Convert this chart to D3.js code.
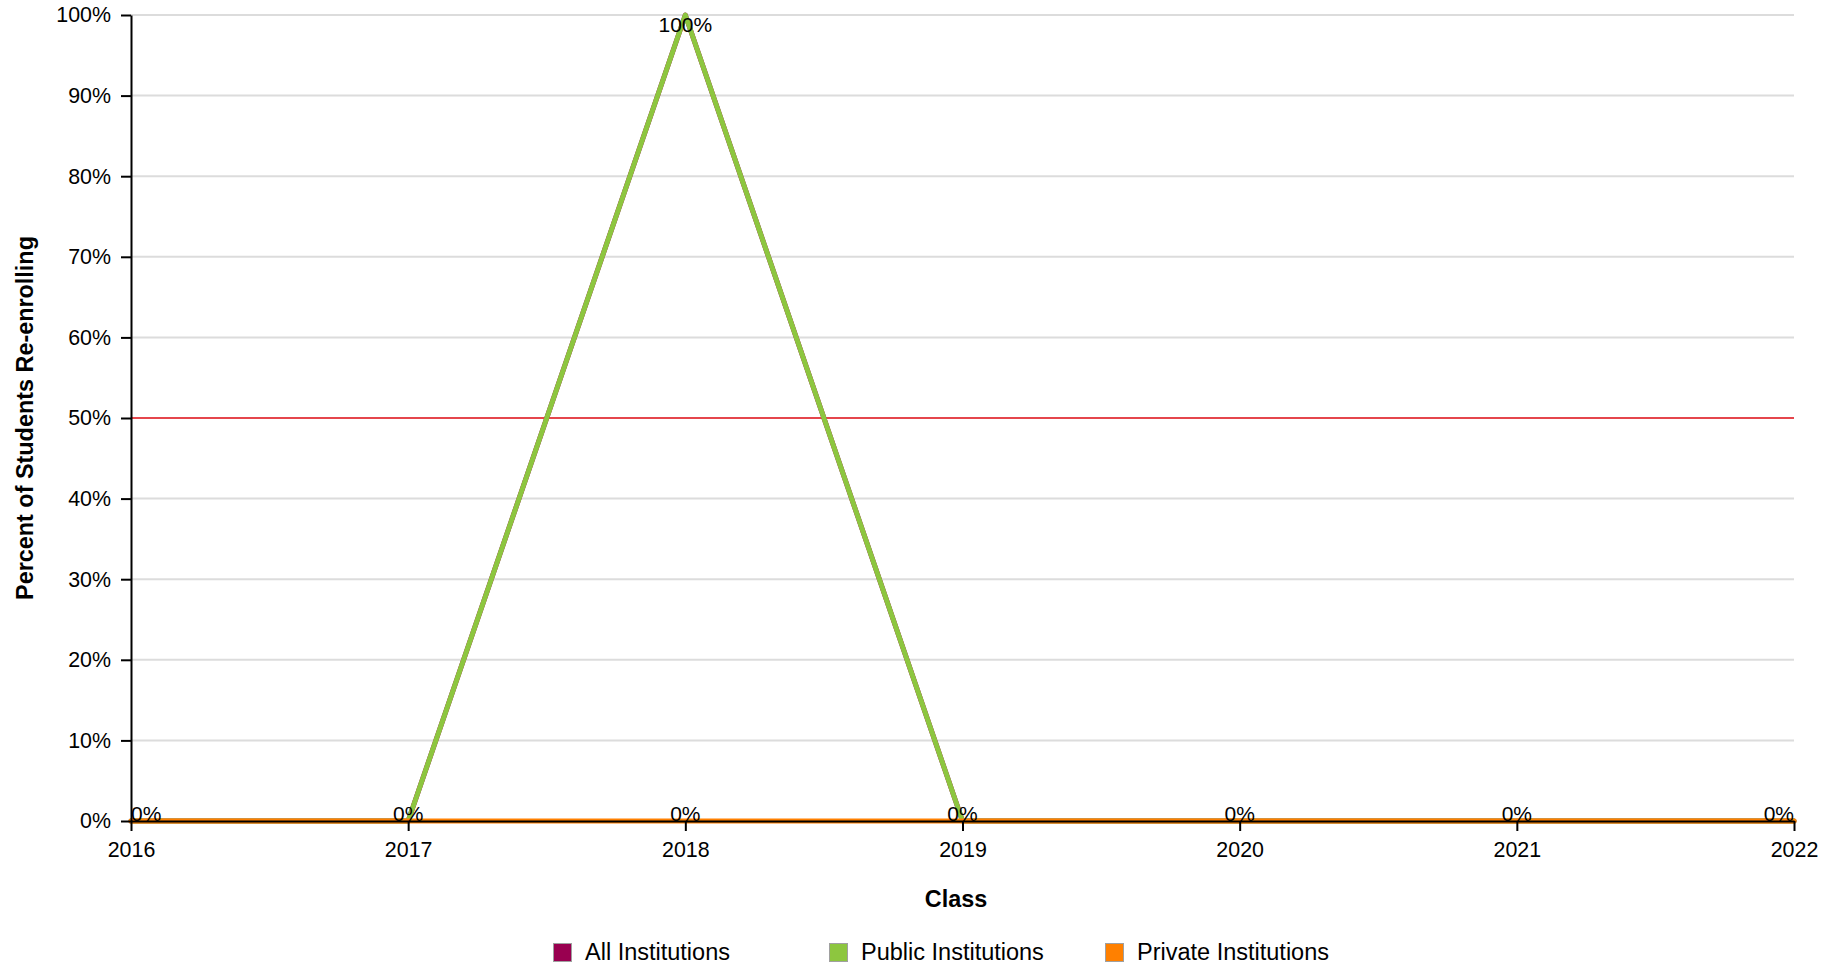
<!DOCTYPE html>
<html>
<head>
<meta charset="utf-8">
<script src="https://cdn.jsdelivr.net/npm/d3@7"></script>
<style>
  html, body { margin: 0; padding: 0; background: #fff; }
  svg { display: block; font-family: "Liberation Sans", Arial, Helvetica, sans-serif; }
</style>
</head>
<body>
<svg id="chart" width="1839" height="968"></svg>
<script>
// ---- Data ----
const years = [2016, 2017, 2018, 2019, 2020, 2021, 2022];
const allInstitutions = [0, 0, 100, 0, 0, 0, 0];
const publicInstitutions = [0, 0, 100, 0, 0, 0, 0];
const privateInstitutions = [0, 0, 0, 0, 0, 0, 0];
const seriesNames = ["All Institutions", "Public Institutions", "Private Institutions"];
const seriesColors = ["#990050", "#8dc63f", "#ff8000"];
const yTickValues = [0, 10, 20, 30, 40, 50, 60, 70, 80, 90, 100];
const thresholdValue = 50;
const xTitle = "Class";
const yTitle = "Percent of Students Re-enrolling";

const seriesValues = [allInstitutions, publicInstitutions, privateInstitutions];

// ---- Layout ----
const svg = d3.select("#chart");
const plotLeft = 131, plotRight = 1794, plotTop = 15, plotBottom = 821;

const x = d3.scaleLinear().domain([years[0], years[years.length - 1]]).range([plotLeft, plotRight]);
const y = d3.scaleLinear().domain([0, 100]).range([plotBottom, plotTop]);

// gridlines
svg.append("g").selectAll("line").data(yTickValues).join("line")
  .attr("x1", plotLeft).attr("x2", plotRight)
  .attr("y1", d => y(d)).attr("y2", d => y(d))
  .attr("stroke", "#dcdcdc").attr("stroke-width", 2);

// threshold line
svg.append("line")
  .attr("x1", plotLeft).attr("x2", plotRight)
  .attr("y1", y(thresholdValue)).attr("y2", y(thresholdValue))
  .attr("stroke", "#e8141c").attr("stroke-width", 1.6);

// series lines
const line = d3.line().x((d, i) => x(years[i])).y(d => y(d));
svg.append("g").selectAll("path").data(seriesValues).join("path")
  .attr("d", d => line(d))
  .attr("fill", "none")
  .attr("stroke", (d, i) => seriesColors[i])
  .attr("stroke-width", 5)
  .attr("stroke-linejoin", "round")
  .attr("stroke-linecap", "round");

// axes
const yAxis = d3.axisLeft(y).tickValues(yTickValues).tickFormat(d => d + "%")
  .tickSize(10).tickSizeOuter(0).tickPadding(10);
const xAxis = d3.axisBottom(x).tickValues(years).tickFormat(d3.format("d"))
  .tickSize(10).tickSizeOuter(0).tickPadding(11);

const gy = svg.append("g").attr("transform", `translate(${plotLeft},0)`).call(yAxis);
const gx = svg.append("g").attr("transform", `translate(0,${plotBottom})`).call(xAxis);
[gx, gy].forEach(g => {
  g.select(".domain").attr("stroke", "#000").attr("stroke-width", 2);
  g.selectAll(".tick line").attr("stroke", "#000").attr("stroke-width", 2);
  g.selectAll(".tick text").attr("fill", "#000")
    .style("font-size", "21.4px")
    .style("font-family", "'Liberation Sans', Arial, Helvetica, sans-serif");
});

// data labels (one per distinct point, clamped inside plot area)
const labels = svg.append("g");
const seen = new Set();
seriesValues.forEach(vals => {
  vals.forEach((v, i) => {
    const key = years[i] + ":" + v;
    if (seen.has(key)) return;
    seen.add(key);
    const t = labels.append("text")
      .attr("x", x(years[i]))
      .attr("y", Math.max(y(v), plotTop + 16.5))
      .attr("text-anchor", "middle")
      .attr("fill", "#000")
      .style("font-size", "21px")
      .text(v + "%");
    const bb = t.node().getBBox();
    let dx = 0;
    if (bb.x < plotLeft) dx = plotLeft - bb.x;
    if (bb.x + bb.width > plotRight) dx = plotRight - (bb.x + bb.width);
    t.attr("x", x(years[i]) + dx);
  });
});

// axis titles
svg.append("text")
  .attr("x", 956).attr("y", 907)
  .attr("text-anchor", "middle")
  .style("font-weight", "bold").style("font-size", "23.4px")
  .text(xTitle);

svg.append("text")
  .attr("transform", `translate(33,${(plotTop + plotBottom) / 2}) rotate(-90)`)
  .attr("text-anchor", "middle")
  .style("font-weight", "bold").style("font-size", "23.4px")
  .text(yTitle);

// legend
const legend = svg.append("g").selectAll("g").data(seriesNames).join("g")
  .attr("transform", (d, i) => `translate(${553 + i * 276},0)`);
legend.append("rect")
  .attr("x", 0.5).attr("y", 943.5).attr("width", 18).attr("height", 18)
  .attr("fill", (d, i) => seriesColors[i])
  .attr("stroke", "#a0a0a0").attr("stroke-width", 1);
legend.append("text")
  .attr("x", 32).attr("y", 960)
  .style("font-size", "23.5px")
  .text(d => d);
</script>
</body>
</html>
